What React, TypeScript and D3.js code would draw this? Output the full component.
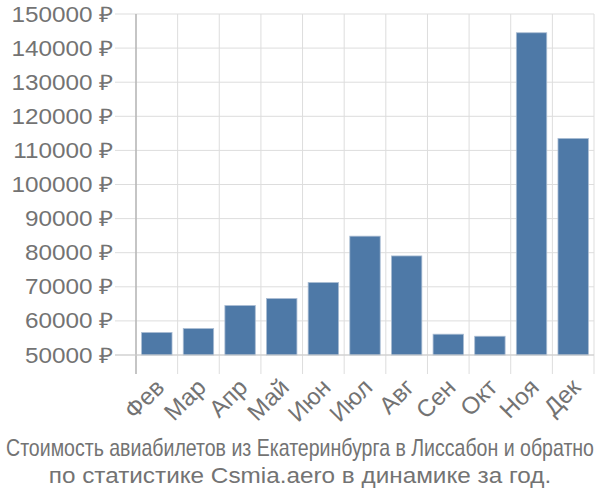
import React, { useEffect, useRef, useState } from "react";
import * as d3 from "d3";

const months = ["Фев", "Мар", "Апр", "Май", "Июн", "Июл", "Авг", "Сен", "Окт", "Ноя", "Дек"];
const prices = [56600, 57750, 64500, 66550, 71250, 84850, 79050, 56100, 55500, 144500, 113500];
const yTicks = [50000, 60000, 70000, 80000, 90000, 100000, 110000, 120000, 130000, 140000, 150000];
const titleLines = [
  "Стоимость авиабилетов из Екатеринбурга в Лиссабон и обратно",
  "по статистике Csmia.aero в динамике за год.",
];

export default function App() {
  const W = 600, H = 500;
  const left = 136, right = 594, top = 14, bottom = 355;
  const x = d3.scaleBand<string>().domain(months).range([left, right]).paddingInner(0.27).paddingOuter(0.135);
  const xg = d3.scaleBand<string>().domain(months).range([left, right]);
  const y = d3.scaleLinear().domain([50000, 150000]).range([bottom, top]);
  const font = "'Liberation Sans', Arial, sans-serif";
  const fmt = (v: number) => `${v} ₽`;
  const sx = 1.13;
  const textColor = "#737373";
  const t1Ref = useRef<SVGTextElement>(null);
  const [k1, setK1] = useState(0.85);
  useEffect(() => {
    if (t1Ref.current) {
      const len = t1Ref.current.getComputedTextLength();
      if (len > 0) setK1(588 / len);
    }
  }, []);
  return (
    <svg width={W} height={H} style={{ position: "absolute", left: 0, top: 0 }} fontFamily={font}>
      {months.map((m) => (
        <line key={"vg" + m} x1={xg(m)!} x2={xg(m)!} y1={top} y2={bottom + 19} stroke="#ddd" strokeWidth={1} />
      ))}
      <line x1={right} x2={right} y1={top} y2={bottom + 19} stroke="#ddd" />
      {yTicks.map((t) => (
        <line key={"hg" + t} x1={left - 21} x2={right} y1={y(t)} y2={y(t)} stroke="#ddd" />
      ))}
      {prices.map((p, i) => (
        <rect
          key={"b" + i}
          x={x(months[i])!}
          y={y(p)}
          width={x.bandwidth()}
          height={bottom - y(p)}
          fill="#4e79a7"
          stroke="#a9bcd3"
          strokeWidth={0.8}
        />
      ))}
      <line x1={left} x2={left} y1={top} y2={bottom + 19} stroke="#aaa" strokeWidth={1.2} />
      <line x1={left - 21} x2={right} y1={bottom} y2={bottom} stroke="#ccc" strokeWidth={1.2} />
      {yTicks.map((t) => (
        <text
          key={"yl" + t}
          transform={`translate(${left - 23},${y(t)}) scale(${sx},1)`}
          dy="0.35em"
          textAnchor="end"
          fontSize={21.5}
          fill={textColor}
        >
          {fmt(t)}
        </text>
      ))}
      {months.map((m) => {
        const cx = xg(m)! + xg.bandwidth() / 2 - 3;
        const cy = bottom + 22;
        return (
          <text
            key={"xl" + m}
            x={cx}
            y={cy}
            textAnchor="end"
            fontSize={24}
            fill={textColor}
            dy="0.7em"
            transform={`rotate(-45 ${cx} ${cy})`}
          >
            {m}
          </text>
        );
      })}
      <text
        ref={t1Ref}
        transform={`translate(300,456) scale(${k1},1)`}
        textAnchor="middle"
        fontSize={23}
        fill={textColor}
      >
        {titleLines[0]}
      </text>
      <text transform={`translate(300,483) scale(${sx},1)`} textAnchor="middle" fontSize={21.5} fill={textColor}>
        {titleLines[1]}
      </text>
    </svg>
  );
}
